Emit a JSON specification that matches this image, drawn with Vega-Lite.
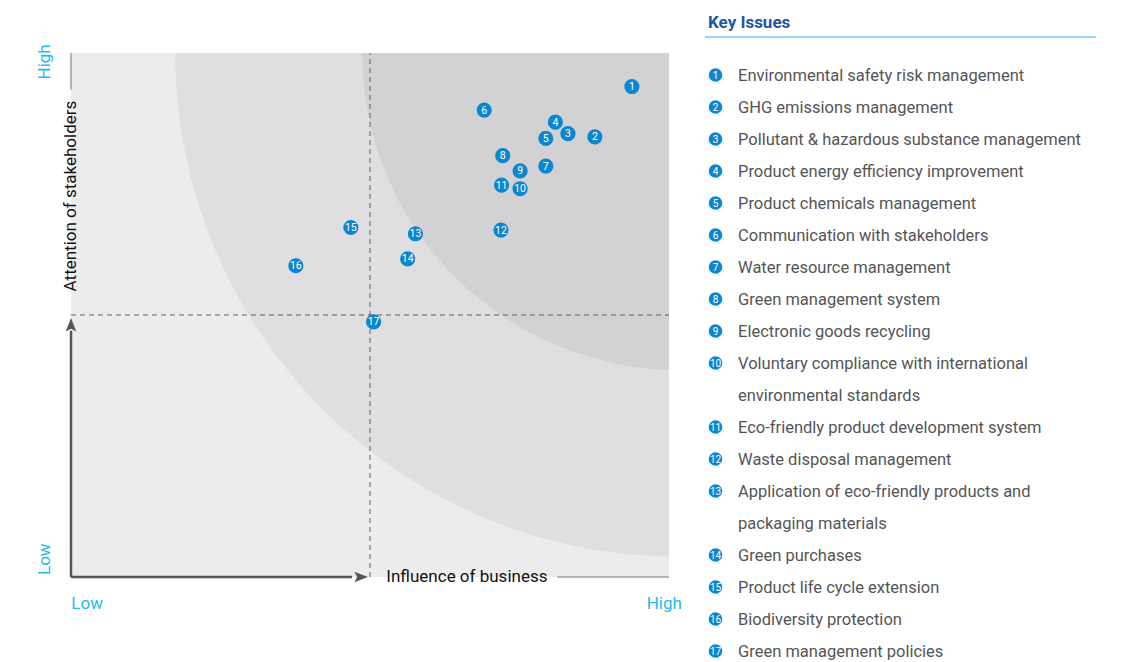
{
  "$schema": "https://vega.github.io/schema/vega-lite/v6.json",
  "width": 1136,
  "height": 662,
  "autosize": {"type": "fit", "contains": "padding"},
  "padding": 0,
  "background": "white",
  "config": {"view": {"stroke": null}, "text": {"font": "Roboto"}},
  "datasets": {
    "issues": [
      {"id": 1, "influence": 93.8, "attention": 93.6, "line": 0, "label": "Environmental safety risk management"},
      {"id": 2, "influence": 87.6, "attention": 84.0, "line": 1, "label": "GHG emissions management"},
      {"id": 3, "influence": 83.1, "attention": 84.6, "line": 2, "label": "Pollutant & hazardous substance management"},
      {"id": 4, "influence": 81.0, "attention": 86.8, "line": 3, "label": "Product energy efficiency improvement"},
      {"id": 5, "influence": 79.4, "attention": 83.7, "line": 4, "label": "Product chemicals management"},
      {"id": 6, "influence": 69.1, "attention": 89.1, "line": 5, "label": "Communication with stakeholders"},
      {"id": 7, "influence": 79.4, "attention": 78.4, "line": 6, "label": "Water resource management"},
      {"id": 8, "influence": 72.2, "attention": 80.4, "line": 7, "label": "Green management system"},
      {"id": 9, "influence": 75.1, "attention": 77.5, "line": 8, "label": "Electronic goods recycling"},
      {"id": 10, "influence": 75.1, "attention": 74.1, "line": 9, "label": "Voluntary compliance with international\nenvironmental standards"},
      {"id": 11, "influence": 72.0, "attention": 74.8, "line": 11, "label": "Eco-friendly product development system"},
      {"id": 12, "influence": 71.9, "attention": 66.2, "line": 12, "label": "Waste disposal management"},
      {"id": 13, "influence": 57.6, "attention": 65.5, "line": 13, "label": "Application of eco-friendly products and\npackaging materials"},
      {"id": 14, "influence": 56.3, "attention": 60.7, "line": 15, "label": "Green purchases"},
      {"id": 15, "influence": 46.8, "attention": 66.7, "line": 16, "label": "Product life cycle extension"},
      {"id": 16, "influence": 37.6, "attention": 59.4, "line": 17, "label": "Biodiversity protection"},
      {"id": 17, "influence": 50.6, "attention": 48.7, "line": 18, "label": "Green management policies"}
    ]
  },
  "layer": [
    {
      "layer": [
        {
          "data": {"values": [{"x0": 0, "x1": 100, "y0": 0, "y1": 100}]},
          "mark": {"type": "rect", "color": "#ececec"},
          "encoding": {
            "x": {"field": "x0", "type": "quantitative", "axis": null, "scale": {"domain": [-11.873, 178.094], "nice": false, "zero": false}},
            "x2": {"field": "x1"},
            "y": {"field": "y0", "type": "quantitative", "axis": null, "scale": {"domain": [-16.221, 110.115], "nice": false, "zero": false}},
            "y2": {"field": "y1"}
          }
        },
        {
          "data": {"values": [{"cx": 101.7, "cy": 100}]},
          "mark": {"type": "arc", "radius": 504, "theta": 3.14159, "theta2": 4.71239, "color": "#dfdfe1"},
          "encoding": {
            "x": {"field": "cx", "type": "quantitative", "axis": null, "scale": {"domain": [-11.873, 178.094], "nice": false, "zero": false}},
            "y": {"field": "cy", "type": "quantitative", "axis": null, "scale": {"domain": [-16.221, 110.115], "nice": false, "zero": false}}
          }
        },
        {
          "data": {"values": [{"cx": 101.7, "cy": 100}]},
          "mark": {"type": "arc", "radius": 317, "theta": 3.14159, "theta2": 4.71239, "color": "#d2d2d4"},
          "encoding": {
            "x": {"field": "cx", "type": "quantitative", "axis": null, "scale": {"domain": [-11.873, 178.094], "nice": false, "zero": false}},
            "y": {"field": "cy", "type": "quantitative", "axis": null, "scale": {"domain": [-16.221, 110.115], "nice": false, "zero": false}}
          }
        },
        {
          "data": {"values": [{"x": 100, "x2": 178.094, "y": 0, "y2": 100}]},
          "mark": {"type": "rect", "color": "white"},
          "encoding": {
            "x": {"field": "x", "type": "quantitative", "axis": null, "scale": {"domain": [-11.873, 178.094], "nice": false, "zero": false}},
            "x2": {"field": "x2"},
            "y": {"field": "y", "type": "quantitative", "axis": null, "scale": {"domain": [-16.221, 110.115], "nice": false, "zero": false}},
            "y2": {"field": "y2"}
          }
        },
        {
          "data": {"values": [{"x": 50, "x2": 50, "y": 0, "y2": 100}, {"x": 0, "x2": 100, "y": 50, "y2": 50}]},
          "mark": {"type": "rule", "color": "#5f5f5f", "strokeWidth": 1, "strokeDash": [5, 4]},
          "encoding": {
            "x": {"field": "x", "type": "quantitative", "axis": null, "scale": {"domain": [-11.873, 178.094], "nice": false, "zero": false}},
            "x2": {"field": "x2"},
            "y": {"field": "y", "type": "quantitative", "axis": null, "scale": {"domain": [-16.221, 110.115], "nice": false, "zero": false}},
            "y2": {"field": "y2"}
          }
        },
        {
          "data": {"values": [{"x": 0, "x2": 0, "y": 0, "y2": 47}, {"x": 0, "x2": 47, "y": 0, "y2": 0}]},
          "mark": {"type": "rule", "color": "#555555", "strokeWidth": 2.5},
          "encoding": {
            "x": {"field": "x", "type": "quantitative", "axis": null, "scale": {"domain": [-11.873, 178.094], "nice": false, "zero": false}},
            "x2": {"field": "x2"},
            "y": {"field": "y", "type": "quantitative", "axis": null, "scale": {"domain": [-16.221, 110.115], "nice": false, "zero": false}},
            "y2": {"field": "y2"}
          }
        },
        {
          "data": {"values": [{"x": 0, "x2": 0, "y": 93, "y2": 100}, {"x": 81.3, "x2": 100, "y": 0, "y2": 0}]},
          "mark": {"type": "rule", "color": "#777777", "strokeWidth": 1},
          "encoding": {
            "x": {"field": "x", "type": "quantitative", "axis": null, "scale": {"domain": [-11.873, 178.094], "nice": false, "zero": false}},
            "x2": {"field": "x2"},
            "y": {"field": "y", "type": "quantitative", "axis": null, "scale": {"domain": [-16.221, 110.115], "nice": false, "zero": false}},
            "y2": {"field": "y2"}
          }
        },
        {
          "data": {"values": [{"x": 0, "y": 48.0}]},
          "mark": {"type": "point", "shape": "M0,-1L0.7,0.8L0,0.45L-0.7,0.8Z", "size": 225, "filled": true, "color": "#555555", "opacity": 1},
          "encoding": {
            "x": {"field": "x", "type": "quantitative", "axis": null, "scale": {"domain": [-11.873, 178.094], "nice": false, "zero": false}},
            "y": {"field": "y", "type": "quantitative", "axis": null, "scale": {"domain": [-16.221, 110.115], "nice": false, "zero": false}}
          }
        },
        {
          "data": {"values": [{"x": 48.4, "y": 0}]},
          "mark": {"type": "point", "shape": "M1,0L-0.8,0.7L-0.45,0L-0.8,-0.7Z", "size": 225, "filled": true, "color": "#555555", "opacity": 1},
          "encoding": {
            "x": {"field": "x", "type": "quantitative", "axis": null, "scale": {"domain": [-11.873, 178.094], "nice": false, "zero": false}},
            "y": {"field": "y", "type": "quantitative", "axis": null, "scale": {"domain": [-16.221, 110.115], "nice": false, "zero": false}}
          }
        },
        {
          "data": {"values": [{"t": "Attention of stakeholders", "x": 0, "y": 72.7}]},
          "mark": {"type": "text", "angle": 270, "align": "center", "baseline": "middle", "fontSize": 17, "color": "#111111"},
          "encoding": {
            "x": {"field": "x", "type": "quantitative", "axis": null, "scale": {"domain": [-11.873, 178.094], "nice": false, "zero": false}},
            "y": {"field": "y", "type": "quantitative", "axis": null, "scale": {"domain": [-16.221, 110.115], "nice": false, "zero": false}},
            "text": {"field": "t"}
          }
        },
        {
          "data": {"values": [{"t": "Influence of business", "x": 66.2, "y": 0}]},
          "mark": {"type": "text", "align": "center", "baseline": "middle", "fontSize": 17, "color": "#111111"},
          "encoding": {
            "x": {"field": "x", "type": "quantitative", "axis": null, "scale": {"domain": [-11.873, 178.094], "nice": false, "zero": false}},
            "y": {"field": "y", "type": "quantitative", "axis": null, "scale": {"domain": [-16.221, 110.115], "nice": false, "zero": false}},
            "text": {"field": "t"}
          }
        },
        {
          "data": {"values": [{"t": "High", "x": -4.35, "y": 98.3}, {"t": "Low", "x": -4.35, "y": 3.4}]},
          "mark": {"type": "text", "angle": 270, "align": "center", "baseline": "middle", "fontSize": 17, "color": "#28b9ee"},
          "encoding": {
            "x": {"field": "x", "type": "quantitative", "axis": null, "scale": {"domain": [-11.873, 178.094], "nice": false, "zero": false}},
            "y": {"field": "y", "type": "quantitative", "axis": null, "scale": {"domain": [-16.221, 110.115], "nice": false, "zero": false}},
            "text": {"field": "t"}
          }
        },
        {
          "data": {"values": [{"t": "Low", "x": 2.7, "y": -5.15}, {"t": "High", "x": 99.2, "y": -5.15}]},
          "mark": {"type": "text", "align": "center", "baseline": "middle", "fontSize": 17, "color": "#28b9ee"},
          "encoding": {
            "x": {"field": "x", "type": "quantitative", "axis": null, "scale": {"domain": [-11.873, 178.094], "nice": false, "zero": false}},
            "y": {"field": "y", "type": "quantitative", "axis": null, "scale": {"domain": [-16.221, 110.115], "nice": false, "zero": false}},
            "text": {"field": "t"}
          }
        },
        {
          "data": {"name": "issues"},
          "mark": {"type": "circle", "size": 230, "color": "#0d86d0", "opacity": 1},
          "encoding": {
            "x": {"field": "influence", "type": "quantitative", "axis": null, "scale": {"domain": [-11.873, 178.094], "nice": false, "zero": false}},
            "y": {"field": "attention", "type": "quantitative", "axis": null, "scale": {"domain": [-16.221, 110.115], "nice": false, "zero": false}}
          }
        },
        {
          "data": {"name": "issues"},
          "mark": {"type": "text", "fontSize": 10.5, "color": "white", "align": "center", "baseline": "middle", "dy": 0.5},
          "encoding": {
            "x": {"field": "influence", "type": "quantitative", "axis": null, "scale": {"domain": [-11.873, 178.094], "nice": false, "zero": false}},
            "y": {"field": "attention", "type": "quantitative", "axis": null, "scale": {"domain": [-16.221, 110.115], "nice": false, "zero": false}},
            "text": {"field": "id"}
          }
        }
      ]
    },
    {
      "layer": [
        {
          "data": {"values": [{"t": "Key Issues"}]},
          "mark": {"type": "text", "align": "left", "baseline": "middle", "fontSize": 17, "fontWeight": "bold", "color": "#1c57a6"},
          "encoding": {
            "x": {"datum": 106.52, "type": "quantitative", "axis": null, "scale": {"domain": [-11.873, 178.094], "nice": false, "zero": false}},
            "y": {"datum": -1.62, "type": "quantitative", "axis": null, "scale": {"domain": [-2.34375, 18.34375], "reverse": true, "nice": false, "zero": false}},
            "text": {"field": "t"}
          }
        },
        {
          "data": {"values": [{"t": "Key Issues"}]},
          "mark": {"type": "rule", "color": "#2dbbe9", "strokeWidth": 1.2},
          "encoding": {
            "x": {"datum": 106.02, "type": "quantitative", "axis": null, "scale": {"domain": [-11.873, 178.094], "nice": false, "zero": false}},
            "x2": {"datum": 171.4},
            "y": {"datum": -1.1875, "type": "quantitative", "axis": null, "scale": {"domain": [-2.34375, 18.34375], "reverse": true, "nice": false, "zero": false}}
          }
        },
        {
          "data": {"name": "issues"},
          "mark": {"type": "circle", "size": 185, "color": "#0d86d0", "opacity": 1},
          "encoding": {
            "x": {"datum": 107.78, "type": "quantitative", "axis": null, "scale": {"domain": [-11.873, 178.094], "nice": false, "zero": false}},
            "y": {"field": "line", "type": "quantitative", "axis": null, "scale": {"domain": [-2.34375, 18.34375], "reverse": true, "nice": false, "zero": false}}
          }
        },
        {
          "data": {"name": "issues"},
          "mark": {"type": "text", "fontSize": 10, "color": "white", "align": "center", "baseline": "middle", "dy": 0.5},
          "encoding": {
            "x": {"datum": 107.78, "type": "quantitative", "axis": null, "scale": {"domain": [-11.873, 178.094], "nice": false, "zero": false}},
            "y": {"field": "line", "type": "quantitative", "axis": null, "scale": {"domain": [-2.34375, 18.34375], "reverse": true, "nice": false, "zero": false}},
            "text": {"field": "id"}
          }
        },
        {
          "data": {"name": "issues"},
          "mark": {"type": "text", "fontSize": 16.5, "color": "#555555", "align": "left", "baseline": "middle", "lineBreak": "\n", "lineHeight": 32, "dy": 1},
          "encoding": {
            "x": {"datum": 111.54, "type": "quantitative", "axis": null, "scale": {"domain": [-11.873, 178.094], "nice": false, "zero": false}},
            "y": {"field": "line", "type": "quantitative", "axis": null, "scale": {"domain": [-2.34375, 18.34375], "reverse": true, "nice": false, "zero": false}},
            "text": {"field": "label"}
          }
        }
      ]
    }
  ],
  "resolve": {"scale": {"y": "independent"}}
}
